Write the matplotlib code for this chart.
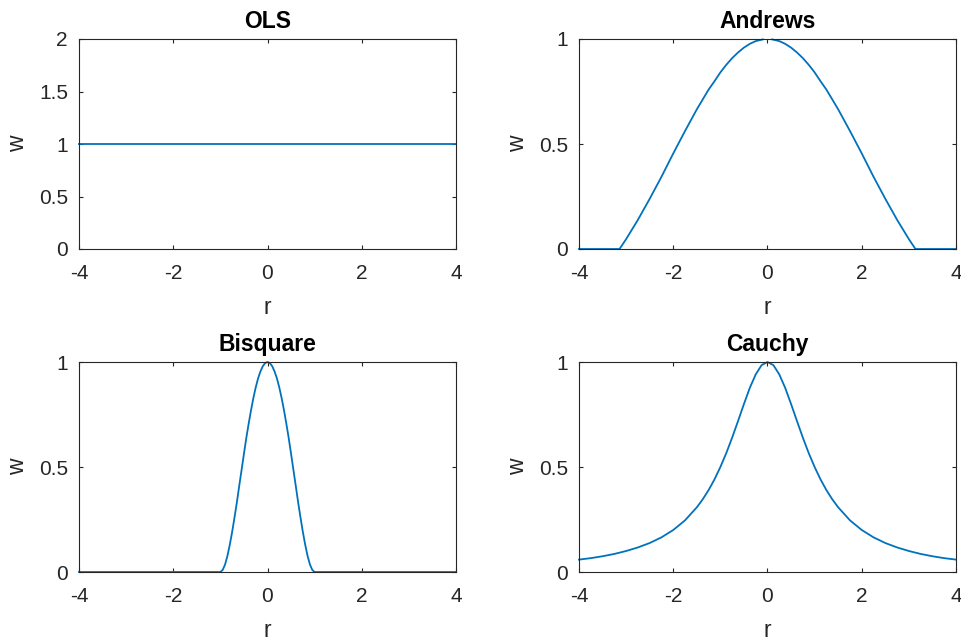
import matplotlib
matplotlib.use("Agg")
import matplotlib.pyplot as plt

plt.rcParams['font.family'] = ['Liberation Sans', 'DejaVu Sans']
nan = float('nan')

# ---- data ----
ols_r = [-4, 4]
ols_w = [1, 1]

andrews_r = [-4, -3.14, -3.0, -2.75, -2.5, -2.25, -2.0, -1.75, -1.5, -1.25, -1.125, -1.0,
             -0.875, -0.75, -0.625, -0.5, -0.375, -0.25, -0.1, 0, 0.1, 0.25, 0.375, 0.5,
             0.625, 0.75, 0.875, 1.0, 1.125, 1.25, 1.5, 1.75, 2.0, 2.25, 2.5, 2.75, 3.0,
             3.14, 4]
andrews_w = [0, 0, 0.047, 0.139, 0.239, 0.344, 0.455, 0.562, 0.665, 0.759, 0.799, 0.841,
             0.877, 0.909, 0.936, 0.959, 0.977, 0.990, 0.998, nan, 0.998, 0.990, 0.977, 0.959,
             0.936, 0.909, 0.877, 0.841, 0.799, 0.759, 0.665, 0.562, 0.455, 0.344, 0.239, 0.139, 0.047,
             0, 0]

bisquare_r = [-4, -1.0, -0.95, -0.9, -0.85, -0.8, -0.75, -0.7, -0.65, -0.6, -0.55, -0.5,
              -0.45, -0.4, -0.35, -0.3, -0.25, -0.2, -0.15, -0.1, -0.05, 0,
              0.05, 0.1, 0.15, 0.2, 0.25, 0.3, 0.35, 0.4, 0.45, 0.5, 0.55, 0.6, 0.65,
              0.7, 0.75, 0.8, 0.85, 0.9, 0.95, 1.0, 4]
bisquare_w = [0, 0, 0.010, 0.036, 0.077, 0.130, 0.191, 0.260, 0.332, 0.410, 0.486, 0.563,
              0.638, 0.706, 0.770, 0.828, 0.879, 0.922, 0.955, 0.980, 0.995, 1.0,
              0.995, 0.980, 0.955, 0.922, 0.879, 0.828, 0.770, 0.706, 0.638, 0.563, 0.486, 0.410, 0.332,
              0.260, 0.191, 0.130, 0.077, 0.036, 0.010, 0, 0]

cauchy_r = [-4, -3.75, -3.5, -3.25, -3.0, -2.75, -2.5, -2.25, -2.0, -1.75, -1.5, -1.375,
            -1.25, -1.125, -1.0, -0.875, -0.75, -0.625, -0.5, -0.375, -0.25, -0.125, 0,
            0.125, 0.25, 0.375, 0.5, 0.625, 0.75, 0.875, 1.0, 1.125, 1.25, 1.375, 1.5,
            1.75, 2.0, 2.25, 2.5, 2.75, 3.0, 3.25, 3.5, 3.75, 4]
cauchy_w = [0.059, 0.066, 0.075, 0.086, 0.100, 0.117, 0.138, 0.165, 0.200, 0.246, 0.308, 0.346,
            0.390, 0.441, 0.500, 0.566, 0.640, 0.719, 0.800, 0.877, 0.941, 0.985, 1.0,
            0.985, 0.941, 0.877, 0.800, 0.719, 0.640, 0.566, 0.500, 0.441, 0.390, 0.346, 0.308,
            0.246, 0.200, 0.165, 0.138, 0.117, 0.100, 0.086, 0.075, 0.066, 0.059]

titles = ['OLS', 'Andrews', 'Bisquare', 'Cauchy']
x_ticks = [-4, -2, 0, 2, 4]
y_ticks_ols = [0, 0.5, 1, 1.5, 2]
y_ticks = [0, 0.5, 1]

W, H = 962, 643
fig = plt.figure(figsize=(W / 100, H / 100), dpi=100)

# axes boxes in pixels: (left, top, right, bottom)
boxes = [(79, 39, 456, 249), (579, 39, 956, 249),
         (79, 362, 456, 572), (579, 362, 956, 572)]
series = [(ols_r, ols_w), (andrews_r, andrews_w), (bisquare_r, bisquare_w), (cauchy_r, cauchy_w)]
ylims = [(0, 2), (0, 1), (0, 1), (0, 1)]
yticks_all = [y_ticks_ols, y_ticks, y_ticks, y_ticks]
tick_labels = {0: '0', 0.5: '0.5', 1: '1', 1.5: '1.5', 2: '2'}

line_color = '#0072BD'
axis_color = '#262626'

for (l, t, r, b), (xs, ys), title, ylim, yt in zip(boxes, series, titles, ylims, yticks_all):
    ax = fig.add_axes([l / W, 1 - b / H, (r - l) / W, (b - t) / H])
    ax.plot(xs, ys, color=line_color, lw=1.3, clip_on=False)
    ax.set_xlim(-4, 4)
    ax.set_ylim(*ylim)
    ax.set_xticks(x_ticks)
    ax.set_xticklabels([str(v) for v in x_ticks])
    ax.set_yticks(yt)
    ax.set_yticklabels([tick_labels[v] for v in yt])
    ax.tick_params(direction='in', length=3, width=0.8, colors=axis_color,
                   labelsize=15, top=True, right=True)
    ax.tick_params(axis='x', pad=11)
    ax.tick_params(axis='y', pad=8)
    for s in ax.spines.values():
        s.set_color(axis_color)
        s.set_linewidth(0.8)
    ax.set_title(title, fontsize=16.5, fontweight='bold', color='black', pad=8)
    ax.set_xlabel('r', fontsize=16.5, color=axis_color, labelpad=9)
    ax.set_ylabel('w', fontsize=16.5, color=axis_color, labelpad=7)

fig.savefig('out.png', dpi=100, facecolor='white')
